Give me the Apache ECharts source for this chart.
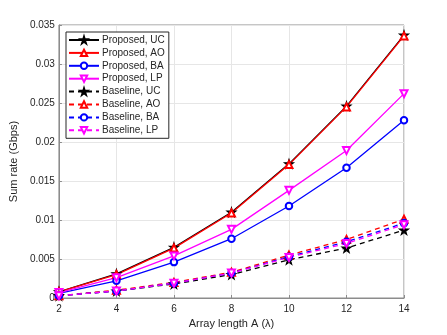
<!DOCTYPE html>
<html>
<head>
<meta charset="utf-8">
<script src="https://cdn.jsdelivr.net/npm/echarts@6/dist/echarts.min.js"></script>
<style>
  html, body { margin: 0; padding: 0; background: #fff; }
  #chart { width: 447px; height: 335px; }
</style>
</head>
<body>
<div id="chart"></div>
<script>
// array length (in wavelengths)
var arrayLength = [2, 4, 6, 8, 10, 12, 14];

// sum rate (Gbps)
var proposedUC = [0.0008, 0.0031, 0.0065, 0.0110, 0.0172, 0.0246, 0.0337];
var proposedAO = [0.0008, 0.0030, 0.0064, 0.0109, 0.0171, 0.0245, 0.0336];
var proposedBA = [0.0006, 0.0022, 0.0046, 0.0076, 0.0118, 0.0167, 0.0228];
var proposedLP = [0.0007, 0.0026, 0.0054, 0.0088, 0.0138, 0.0189, 0.0262];
var baselineUC = [0.0003, 0.0009, 0.0018, 0.0030, 0.0049, 0.0064, 0.0087];
var baselineAO = [0.0003, 0.0010, 0.0020, 0.0033, 0.0055, 0.0075, 0.0101];
var baselineBA = [0.0003, 0.0009, 0.0019, 0.0032, 0.0053, 0.0072, 0.0096];
var baselineLP = [0.0003, 0.0009, 0.0019, 0.0032, 0.0052, 0.0070, 0.0094];

var star = 'path://M50,0 L61,35 L98,35 L68,57 L79,91 L50,70 L21,91 L32,57 L2,35 L39,35 Z';

function pairs(ys) {
  return arrayLength.map(function (x, i) { return [x, ys[i]]; });
}

function makeSeries(name, ys, color, dashed, mark) {
  var s = {
    name: name,
    type: 'line',
    data: pairs(ys),
    symbolSize: 7,
    showAllSymbol: true,
    lineStyle: { color: color, width: 1.3, type: dashed ? [5, 4] : 'solid' },
    itemStyle: { color: color, borderColor: color, borderWidth: 1.1 },
    emphasis: { disabled: true },
    animation: false
  };
  if (mark === 'star') {
    s.symbol = star;
    s.symbolSize = 9;
  } else if (mark === 'up') {
    s.symbol = 'emptyTriangle';
  } else if (mark === 'down') {
    s.symbol = 'emptyTriangle';
    s.symbolRotate = 180;
  } else {
    s.symbol = 'emptyCircle';
    s.symbolSize = 6.5;
  }
  return s;
}

var chart = echarts.init(document.getElementById('chart'));

var textColor = '#262626';
var axisColor = '#8c8c8c';

chart.setOption({
  backgroundColor: '#fff',
  animation: false,
  grid: {
    left: 58, right: 43, top: 25, bottom: 37,
    show: true, borderColor: axisColor, borderWidth: 1
  },
  legend: {
    orient: 'vertical',
    left: 66, top: 32,
    padding: [3, 4, 3, 2],
    itemWidth: 30, itemHeight: 8, itemGap: 2.9,
    backgroundColor: '#fff',
    borderColor: textColor, borderWidth: 1,
    textStyle: { fontSize: 10, color: textColor, fontFamily: 'Liberation Sans', padding: [0, 0, 0, -2] }
  },
  xAxis: {
    type: 'value',
    min: 2, max: 14, interval: 2,
    name: 'Array length A (λ)',
    nameLocation: 'middle', nameGap: 20,
    nameTextStyle: { fontSize: 11, color: textColor, fontFamily: 'Liberation Sans' },
    axisLine: { lineStyle: { color: axisColor } },
    axisTick: { inside: true, length: 3, lineStyle: { color: axisColor } },
    axisLabel: { fontSize: 10, color: textColor, fontFamily: 'Liberation Sans', margin: 6 },
    splitLine: { lineStyle: { color: '#e6e6e6' } }
  },
  yAxis: {
    type: 'value',
    min: 0, max: 0.035, interval: 0.005,
    name: 'Sum rate (Gbps)',
    nameLocation: 'middle', nameGap: 38,
    nameTextStyle: { fontSize: 11, color: textColor, fontFamily: 'Liberation Sans' },
    axisLine: { show: true, lineStyle: { color: axisColor } },
    axisTick: { show: true, inside: true, length: 3, lineStyle: { color: axisColor } },
    axisLabel: { fontSize: 10, color: textColor, fontFamily: 'Liberation Sans', margin: 4 },
    splitLine: { lineStyle: { color: '#e6e6e6' } }
  },
  series: [
    makeSeries('Proposed, UC', proposedUC, '#000000', false, 'star'),
    makeSeries('Proposed, AO', proposedAO, '#ff0000', false, 'up'),
    makeSeries('Proposed, BA', proposedBA, '#0000ff', false, 'circle'),
    makeSeries('Proposed, LP', proposedLP, '#ff00ff', false, 'down'),
    makeSeries('Baseline, UC', baselineUC, '#000000', true, 'star'),
    makeSeries('Baseline, AO', baselineAO, '#ff0000', true, 'up'),
    makeSeries('Baseline, BA', baselineBA, '#0000ff', true, 'circle'),
    makeSeries('Baseline, LP', baselineLP, '#ff00ff', true, 'down')
  ]
});
</script>
</body>
</html>
